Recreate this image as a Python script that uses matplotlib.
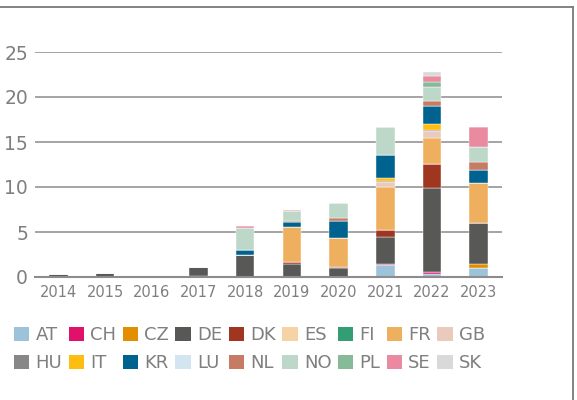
import matplotlib
matplotlib.use("Agg")
import matplotlib.pyplot as plt
from matplotlib.patches import Patch
from matplotlib.lines import Line2D
import numpy as np

years = ["2014", "2015", "2016", "2017", "2018", "2019", "2020", "2021", "2022", "2023"]
countries = ["AT", "CH", "CZ", "DE", "DK", "ES", "FI", "FR", "GB",
             "HU", "IT", "KR", "LU", "NL", "NO", "PL", "SE", "SK"]
colors = ["#9DC3DA", "#E0116B", "#E38D00", "#585856", "#A03620", "#F5D3A5",
          "#339E73", "#EEAF5E", "#EACABD", "#878787", "#FDBE11", "#00628E",
          "#D3E5F0", "#C67C64", "#BDD8C9", "#87BA99", "#E98AA0", "#D9D9D9"]

AT = [0, 0, 0, 0.1, 0, 0, 0, 1.3, 0.35, 1.0]
CH = [0, 0, 0, 0, 0, 0, 0, 0.17, 0.2, 0]
CZ = [0, 0, 0, 0, 0, 0, 0, 0, 0, 0.5]
DE = [0.3, 0.4, 0, 1.05, 2.5, 1.5, 0.95, 2.95, 9.35, 4.5]
DK = [0, 0, 0, 0, 0, 0.2, 0.2, 0.8, 2.7, 0]
ES = [0, 0, 0, 0, 0, 0, 0, 0, 0, 0]
FI = [0, 0, 0, 0, 0, 0, 0, 0, 0, 0]
FR = [0, 0, 0, 0, 0, 3.9, 3.15, 4.8, 2.85, 4.4]
GB = [0, 0, 0, 0, 0, 0, 0, 0.5, 0.75, 0]
HU = [0, 0, 0, 0, 0, 0, 0, 0.15, 0.15, 0]
IT = [0, 0, 0, 0, 0, 0, 0, 0.3, 0.65, 0]
KR = [0, 0, 0, 0, 0.5, 0.5, 1.95, 2.55, 2.05, 1.5]
LU = [0, 0, 0, 0, 0, 0, 0, 0, 0, 0]
NL = [0, 0, 0, 0, 0, 0.15, 0.35, 0, 0.5, 0.85]
NO = [0, 0, 0, 0, 2.5, 1.1, 1.6, 3.15, 1.6, 1.65]
PL = [0, 0, 0, 0, 0, 0, 0, 0, 0.5, 0]
SE = [0, 0, 0, 0, 0.15, 0.15, 0, 0, 0.65, 2.25]
SK = [0, 0, 0, 0, 0, 0, 0, 0, 0.5, 0]

series = [AT, CH, CZ, DE, DK, ES, FI, FR, GB, HU, IT, KR, LU, NL, NO, PL, SE, SK]

text_color = "#7F7F7F"
plt.rcParams['font.family'] = ['DejaVu Sans']

fig = plt.figure(figsize=(5.77, 4.00), dpi=100)
ax = fig.add_axes([35/577, 1 - 277/400, (502 - 35)/577, (277 - 52)/400])

x = np.arange(len(years))
bottom = np.zeros(len(years))
handles = []
for name, vals, col in zip(countries, series, colors):
    v = np.array(vals, dtype=float)
    ax.bar(x, v, bottom=bottom, width=0.4, color=col, edgecolor="white",
           linewidth=0.3, zorder=3)
    bottom += v
    handles.append(Patch(facecolor=col, edgecolor="none", label=name))

ax.set_xlim(-0.5, len(years) - 0.5)
ax.set_ylim(0, 25)
ax.set_yticks([0, 5, 10, 15, 20, 25])
ax.set_xticks(x)
ax.set_xticklabels(years)
ax.yaxis.grid(True, color="#959595", linewidth=1.2, zorder=0)
ax.set_axisbelow(True)
for s in ["top", "right", "left"]:
    ax.spines[s].set_visible(False)
ax.spines["bottom"].set_color("#8C8C8C")
ax.spines["bottom"].set_linewidth(1.5)
ax.spines["bottom"].set_zorder(4)
ax.tick_params(axis="y", length=0, pad=5, labelsize=13.5, labelcolor=text_color)
ax.tick_params(axis="x", length=0, pad=6, labelsize=10.5, labelcolor=text_color)

# legend row-wise ordering for 2 rows x 9 columns
row1 = handles[:9]
row2 = handles[9:]
ordered = []
for a, b in zip(row1, row2):
    ordered += [a, b]
fig.legend(handles=ordered, labels=[h.get_label() for h in ordered],
           loc="upper left", bbox_to_anchor=(14/577, 1 - 326/400), ncol=9,
           frameon=False, fontsize=13, labelcolor=text_color,
           handlelength=0.85, handleheight=0.85, handletextpad=0.35,
           columnspacing=0.35, labelspacing=0.58, borderaxespad=0,
           borderpad=0)

# frame lines on top and right
fig.add_artist(Line2D([0, 573/577], [1 - 7/400, 1 - 7/400], color="#7A7A7A",
                      linewidth=1.3, transform=fig.transFigure))
fig.add_artist(Line2D([573/577, 573/577], [0, 1 - 7/400], color="#7A7A7A",
                      linewidth=1.3, transform=fig.transFigure))

fig.savefig("out.png", dpi=100)
